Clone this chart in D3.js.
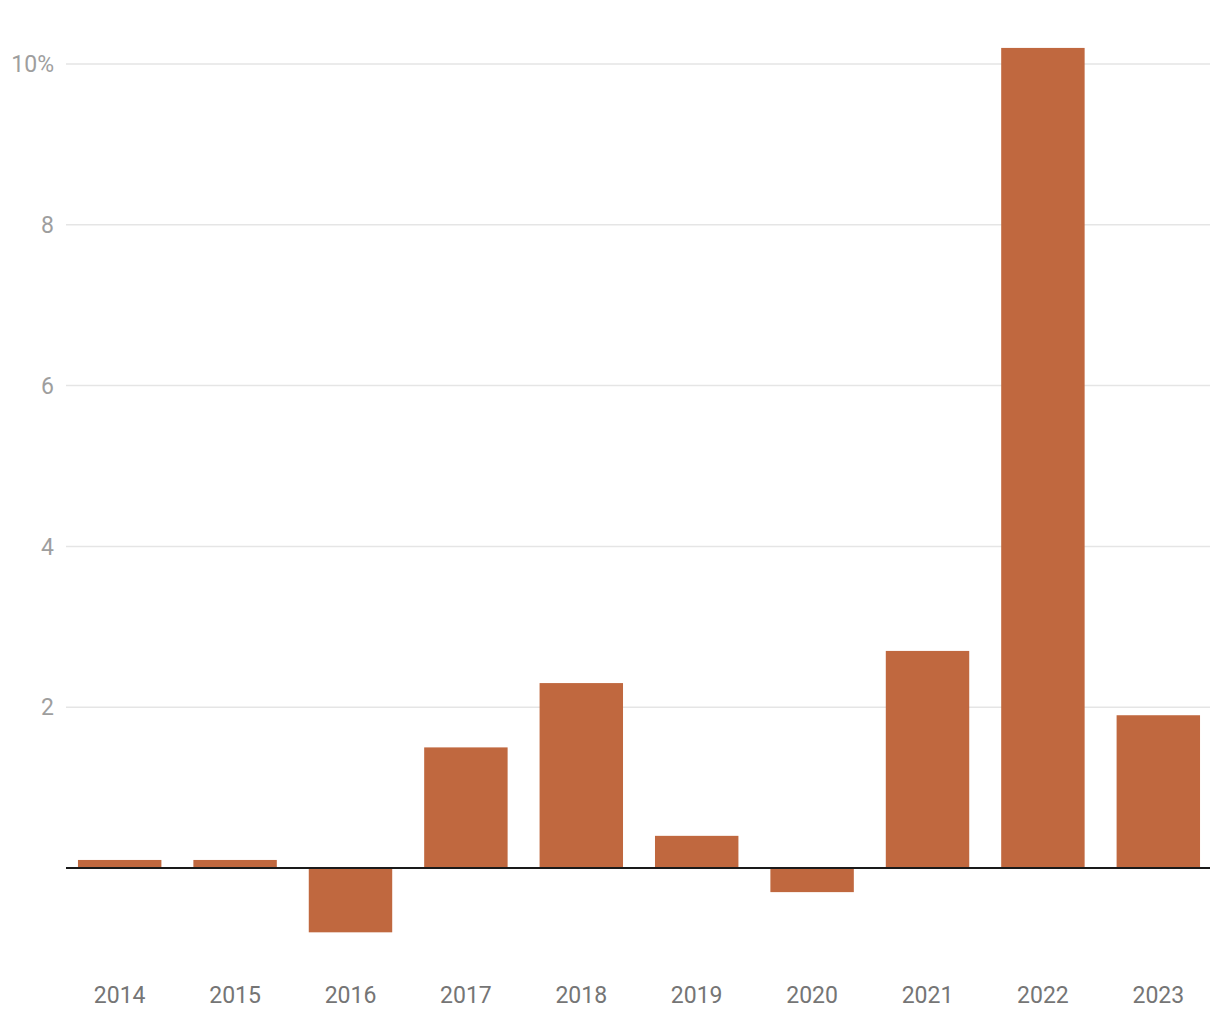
<!DOCTYPE html>
<html>
<head>
<meta charset="utf-8">
<script src="https://cdn.jsdelivr.net/npm/d3@7"></script>
<style>
html,body{margin:0;padding:0;background:#fff;}
svg{display:block;font-family:Roboto, "Noto Sans", sans-serif;}
</style>
</head>
<body>
<svg id="chart" width="1220" height="1020"></svg>
<script>
const years = ["2014","2015","2016","2017","2018","2019","2020","2021","2022","2023"];
const values = [0.1, 0.1, -0.8, 1.5, 2.3, 0.4, -0.3, 2.7, 10.2, 1.9];
const yTicks = [2, 4, 6, 8, 10];
const yTickLabels = ["2", "4", "6", "8", "10%"];

const svg = d3.select("#chart");
const left = 66, right = 1210;

const x = d3.scaleBand().domain(years).range([left + 1, right + 1]).paddingInner(0.277).paddingOuter(0.095);
const y = d3.scaleLinear().domain([0, 10]).range([868, 64]);

// gridlines
svg.append("g").selectAll("line").data(yTicks).join("line")
  .attr("x1", left).attr("x2", right)
  .attr("y1", d => y(d)).attr("y2", d => y(d))
  .attr("stroke", "#e5e5e5").attr("stroke-width", 1.5);

// y labels
svg.append("g").selectAll("text").data(yTicks).join("text")
  .attr("x", 54).attr("y", d => y(d)).attr("dy", "0.36em")
  .attr("text-anchor", "end").attr("fill", "#9e9e9e")
  .style("font-size", "23px")
  .text((d, i) => yTickLabels[i]);

// bars
svg.append("g").selectAll("rect").data(values).join("rect")
  .attr("x", (d, i) => x(years[i]))
  .attr("width", x.bandwidth())
  .attr("y", d => y(Math.max(0, d)))
  .attr("height", d => Math.abs(y(d) - y(0)))
  .attr("fill", "#c0683f");

// zero line
svg.append("line").attr("x1", left).attr("x2", right)
  .attr("y1", y(0)).attr("y2", y(0))
  .attr("stroke", "#1a1a1a").attr("stroke-width", 2);

// x labels
svg.append("g").selectAll("text").data(years).join("text")
  .attr("x", d => x(d) + x.bandwidth() / 2).attr("y", 1003)
  .attr("text-anchor", "middle").attr("fill", "#757575")
  .style("font-size", "23px")
  .text(d => d);
</script>
</body>
</html>
